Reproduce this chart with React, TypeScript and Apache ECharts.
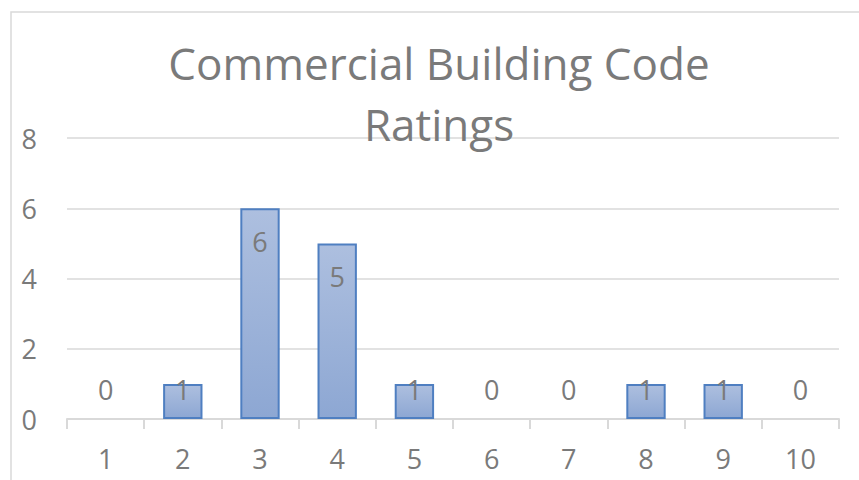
import React, { useEffect, useRef } from "react";
import * as echarts from "echarts";

const titleText = "Commercial Building Code\nRatings";
const categories = ["1", "2", "3", "4", "5", "6", "7", "8", "9", "10"];
const values = [0, 1, 6, 5, 1, 0, 0, 1, 1, 0];
const yTicks = { min: 0, max: 8, interval: 2 };

const FONT = "'Open Sans', sans-serif";
const GRAY = "#7a7a7a";

export default function App() {
  const ref = useRef<HTMLDivElement>(null);
  useEffect(() => {
    if (!ref.current) return;
    const chart = echarts.init(ref.current, undefined, { renderer: "svg" });
    chart.setOption({
      animation: false,
      backgroundColor: "#ffffff",
      graphic: [
        {
          type: "rect",
          shape: { x: 11, y: 12, width: 900, height: 520 },
          style: { fill: "none", stroke: "#d9d9d9", lineWidth: 1.5 },
          silent: true,
          z: -1,
        },
      ],
      title: {
        text: titleText,
        left: 434,
        top: 27,
        textAlign: "center",
        textStyle: {
          fontFamily: FONT,
          fontSize: 44,
          fontWeight: "normal",
          color: GRAY,
          lineHeight: 61,
        },
      },
      grid: { left: 67, right: 20, top: 138, bottom: 61, containLabel: false },
      xAxis: {
        type: "category",
        data: categories,
        boundaryGap: true,
        axisLine: { lineStyle: { color: "#d9d9d9", width: 2 } },
        axisTick: { show: true, length: 10, alignWithLabel: false, lineStyle: { color: "#d9d9d9", width: 2 } },
        axisLabel: { color: GRAY, fontFamily: FONT, fontSize: 27, margin: 26 },
      },
      yAxis: {
        type: "value",
        min: yTicks.min,
        max: yTicks.max,
        interval: yTicks.interval,
        axisLine: { show: false },
        axisTick: { show: false },
        splitLine: { lineStyle: { color: "#d9d9d9", width: 1.5 } },
        axisLabel: { color: GRAY, fontFamily: FONT, fontSize: 27, margin: 30 },
      },
      series: [
        {
          type: "bar",
          barWidth: "51%",
          z: 3,
          data: values.map((v) => ({
            value: v,
            itemStyle:
              v === 0
                ? { color: "rgba(0,0,0,0)", borderColor: "rgba(0,0,0,0)", borderWidth: 0 }
                : undefined,
            label:
              v < 2
                ? { position: "insideBottom", distance: 16 }
                : { position: "insideTop", distance: 20 },
          })),
          itemStyle: {
            color: new echarts.graphic.LinearGradient(0, 0, 0, 1, [
              { offset: 0, color: "#adbfdf" },
              { offset: 1, color: "#8da7d3" },
            ]),
            borderColor: "#4f7fc1",
            borderWidth: 2,
          },
          label: {
            show: true,
            color: GRAY,
            fontFamily: FONT,
            fontSize: 27,
          },
        },
      ],
    });
    return () => chart.dispose();
  }, []);
  return (
    <div
      ref={ref}
      style={{ position: "absolute", left: 0, top: 0, width: 859, height: 480 }}
    />
  );
}
